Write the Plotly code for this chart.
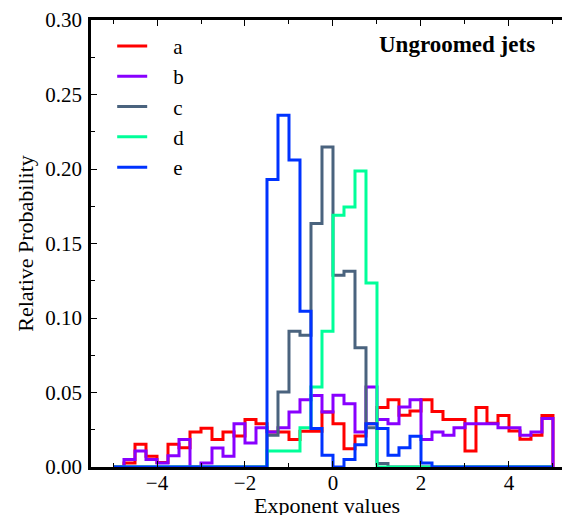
import plotly.graph_objects as go

bin_start = -5.0
bin_width = 0.25
n_bins = 40

series_names = ["a", "b", "c", "d", "e"]
series_colors = ["#ff0000", "#8800ff", "#4a637e", "#00ff99", "#0033ff"]

a_vals = [0.0, 0.0027, 0.0152, 0.0072, 0.003, 0.0152, 0.013, 0.0235, 0.026, 0.0184,
          0.0235, 0.0208, 0.0318, 0.0291, 0.0235, 0.0235, 0.0184, 0.024, 0.024, 0.0369,
          0.0291, 0.0123, 0.0208, 0.029, 0.0400, 0.0452, 0.0347, 0.0376, 0.0452, 0.0372,
          0.0318, 0.0318, 0.0108, 0.0400, 0.0293, 0.0345, 0.0241, 0.0187, 0.0213, 0.0345]
b_vals = [0.0, 0.005, 0.0107, 0.005, 0.0027, 0.0076, 0.0184, 0.0, 0.0027, 0.0128,
          0.0072, 0.0291, 0.0161, 0.0264, 0.0235, 0.0264, 0.0369, 0.0452, 0.048, 0.0369,
          0.0481, 0.0425, 0.0235, 0.0537, 0.0318, 0.0291, 0.0403, 0.0452, 0.0184, 0.0235,
          0.0213, 0.0264, 0.0291, 0.0291, 0.0291, 0.0264, 0.0264, 0.0213, 0.0235, 0.0325]
c_vals = [0.0] * 14 + [0.0213, 0.0503, 0.0911, 0.0884, 0.1634, 0.2148, 0.1287, 0.1313,
                       0.0801, 0.0264, 0.0023] + [0.0] * 15
d_vals = [0.0] * 14 + [0.0107, 0.0107, 0.0107, 0.0264, 0.0537, 0.0911, 0.169, 0.1745,
                       0.1987, 0.1235] + [0.0] * 16
e_vals = [0.0] * 14 + [0.193, 0.236, 0.206, 0.1045, 0.0258, 0.0079, 0.0, 0.005,
                       0.015, 0.0291, 0.0258, 0.0079, 0.013, 0.0206, 0.0027] + [0.0] * 11

all_vals = [a_vals, b_vals, c_vals, d_vals, e_vals]

edges = [bin_start + bin_width * i for i in range(n_bins + 1)]

FONT = "Liberation Serif"
PAD = "\u00a0\u00a0\u00a0\u00a0"

fig = go.Figure()
for name, color, vals in zip(series_names, series_colors, all_vals):
    xs = [edges[0]] + edges[:-1] + [edges[-1]]
    ys = [0.0] + list(vals) + [0.0]
    fig.add_trace(go.Scatter(
        x=xs, y=ys, mode="lines", name=PAD + name,
        line=dict(color=color, width=3, shape="hv"),
        legendgroup=name,
    ))

fig.add_annotation(
    x=0.946, y=0.945, xref="paper", yref="paper", xanchor="right", yanchor="middle",
    text="<b>Ungroomed jets</b>", showarrow=False,
    font=dict(family=FONT, size=23, color="black"),
)

# x-axis title (placed as annotation so it can sit partly below the frame, as in the reference)
fig.add_annotation(
    x=0.5, y=-0.087, xref="paper", yref="paper", xanchor="center", yanchor="middle",
    text="Exponent values", showarrow=False,
    font=dict(family=FONT, size=22, color="black"),
)

fig.update_layout(
    width=562, height=515,
    margin=dict(l=91, r=0, t=20, b=48),
    paper_bgcolor="white", plot_bgcolor="white",
    font=dict(family=FONT, size=20, color="black"),
    showlegend=True,
    legend=dict(
        x=0.045, y=0.987, xanchor="left", yanchor="top",
        bgcolor="rgba(0,0,0,0)", borderwidth=0,
        font=dict(family=FONT, size=21),
        tracegroupgap=0, itemwidth=30,
    ),
    xaxis=dict(
        range=[-5.5, 5.205], showgrid=False, zeroline=False,
        showline=True, linecolor="black", linewidth=2.5, mirror="ticks",
        ticks="inside", ticklen=6, tickwidth=1, tickcolor="black",
        tickmode="linear", tick0=0, dtick=2,
        minor=dict(ticks="inside", ticklen=4, dtick=1, tick0=0, tickcolor="black", showgrid=False),
        tickfont=dict(family=FONT, size=21),
        ticklabelstandoff=-5,
        automargin=False,
    ),
    yaxis=dict(
        range=[0, 0.30], showgrid=False, zeroline=False,
        showline=True, linecolor="black", linewidth=2.5, mirror=False,
        ticks="inside", ticklen=6, tickwidth=1, tickcolor="black",
        tickmode="linear", tick0=0, dtick=0.05, tickformat=".2f",
        minor=dict(ticks="inside", ticklen=4, dtick=0.025, tick0=0, tickcolor="black", showgrid=False),
        tickfont=dict(family=FONT, size=21),
        ticklabelstandoff=2,
        title=dict(text="Relative Probability", font=dict(family=FONT, size=22), standoff=6),
        automargin=False,
    ),
)

fig.write_html("out.html")
